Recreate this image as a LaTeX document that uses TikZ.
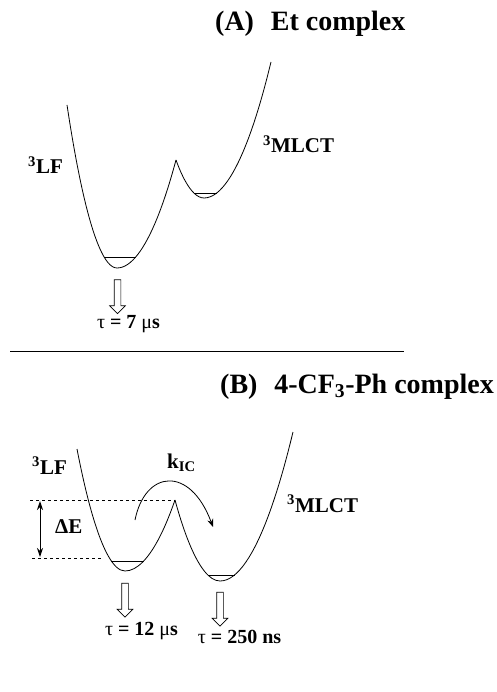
\documentclass[tikz,border=0pt]{standalone}
\usepackage{fontspec}
\setmainfont{Liberation Serif}
\usetikzlibrary{arrows.meta,positioning,shapes.arrows}

\begin{document}
\begin{tikzpicture}[x=1pt, y=-1pt, >=Stealth,
    ttl/.style={font=\fontsize{28}{28}\selectfont\bfseries, inner sep=0pt, anchor=base west},
    lbl/.style={font=\fontsize{21}{21}\selectfont\bfseries, inner sep=0pt, anchor=base west},
    tau/.style={font=\fontsize{20}{20}\selectfont\bfseries, inner sep=0pt},
    pes/.style={line width=0.8pt, line join=round},
    lev/.style={line width=0.7pt},
    decay/.style={single arrow, draw, line width=0.7pt, shape border rotate=270,
      minimum height=34pt, minimum width=15pt, single arrow head extend=4.5pt, inner sep=3pt}]
  \useasboundingbox (0,0) rectangle (496,692);
  % (A) Et complex
  \node[ttl] (titA) at (215,31) {(A)\hspace{0.6em}Et complex};
  \draw[pes] (67,105) parabola bend (117,268) (176,160);
  \draw[pes] (176,160) parabola bend (204,198) (271,62);
  \draw[lev] (104,257) -- (135.8,257);
  \draw[lev] (193.8,193) -- (216.8,193);
  \node[lbl] (lfA) at (28,174) {\textsuperscript{3}LF};
  \node[lbl] (mlctA) at (263,153) {\textsuperscript{3}MLCT};
  \node[decay] (decA) at (117.5,295) {};
  \node[tau, below=1pt of decA, xshift=11pt] (tauA) {{\mdseries τ} = 7 {\mdseries μ}s};
  \draw[line width=0.8pt] (10,351) -- (404,351);
  % (B) 4-CF3-Ph complex
  \node[ttl] (titB) at (220,393) {(B)\hspace{0.6em}4-CF\textsubscript{3}-Ph complex};
  \coordinate (cusp) at (175,500);
  \draw[pes] (77,449) parabola bend (125,571) (cusp);
  \draw[pes] (cusp) parabola bend (220,581) (293,432);
  \draw[lev] (111.3,561) -- (143.8,561);
  \draw[lev] (207.8,575) -- (234.6,575);
  \draw[dashed, line width=0.6pt] (30,500) -- (cusp);
  \draw[dashed, line width=0.6pt] (32,558) -- (103,558);
  \coordinate (dEt) at (40,501);
  \coordinate (dEb) at (40,557);
  \draw[<->, line width=1pt, >={Stealth[length=9pt,width=6pt]}] (dEt) -- (dEb);
  \node[lbl] (dE) at (55,533) {ΔE};
  \node[lbl] (lfB) at (32,474) {\textsuperscript{3}LF};
  \node[lbl] (kic) at (167,468) {k\textsubscript{IC}};
  \node[lbl] (mlctB) at (287,512) {\textsuperscript{3}MLCT};
  \coordinate (icS) at (135,520);
  \coordinate (icE) at (213,527);
  \draw[->, line width=0.8pt, >={Stealth[length=8pt,width=6pt]}] (icS) .. controls (145,470) and (190,465) .. (icE);
  \node[decay] (decB1) at (125,598.5) {};
  \node[decay] (decB2) at (220,607.5) {};
  \node[tau, below=4pt of decB1, xshift=16.5pt] (tauB1) {{\mdseries τ} = 12 {\mdseries μ}s};
  \node[tau, below=3pt of decB2, xshift=19.5pt] (tauB2) {{\mdseries τ} = 250 ns};
\end{tikzpicture}
\end{document}
